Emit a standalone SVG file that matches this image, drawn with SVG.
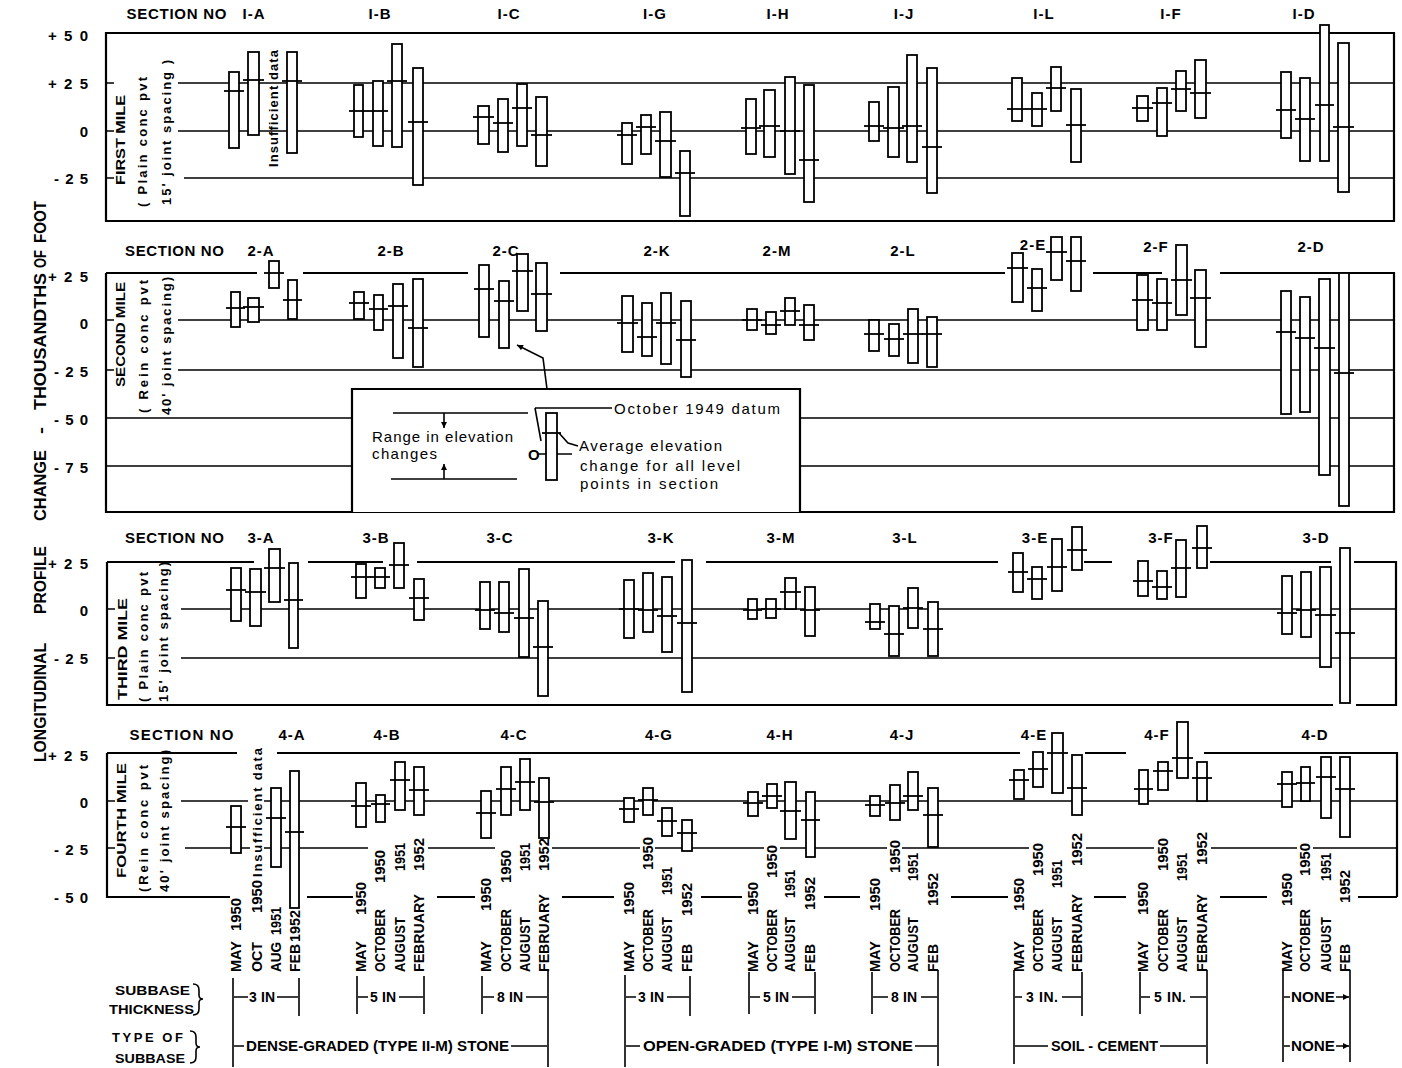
<svg xmlns="http://www.w3.org/2000/svg" width="1402" height="1068" viewBox="0 0 1402 1068">
<style>
text{font-family:"Liberation Sans",Arial,sans-serif;fill:#000}
.s{font-weight:bold;font-size:15px;letter-spacing:1px}
.t{font-weight:bold;font-size:15px}
.v{font-weight:bold;font-size:13px}
.lg{font-size:15px}
.d{font-weight:bold;font-size:14px}
.ax{font-weight:bold;font-size:16px}
.sm{font-weight:bold;font-size:13px}
.th{font-weight:bold;font-size:14px}
.b rect{fill:#fff;stroke:#000;stroke-width:1.8}
.b path{fill:none;stroke:#000;stroke-width:1.8}
.g path{fill:none;stroke:#000;stroke-width:1.6}
.f path{fill:none;stroke:#000;stroke-width:2.2}
.k path{fill:none;stroke:#000;stroke-width:1.6}
</style>
<defs>
<marker id="ah" viewBox="0 0 10 10" refX="10" refY="5" markerWidth="8" markerHeight="6" markerUnits="userSpaceOnUse" orient="auto"><path d="M0,0 L10,5 L0,10 z" fill="#000"/></marker>
</defs>

<!-- Y axis title -->
<g id="axis-title">
<text class="ax" transform="translate(46,762) rotate(-90)" textLength="119" lengthAdjust="spacingAndGlyphs">LONGITUDINAL</text>
<text class="ax" transform="translate(46,614) rotate(-90)" textLength="68" lengthAdjust="spacingAndGlyphs">PROFILE</text>
<text class="ax" transform="translate(46,521) rotate(-90)" textLength="71" lengthAdjust="spacingAndGlyphs">CHANGE</text>
<text class="ax" transform="translate(46,434) rotate(-90)" textLength="7" lengthAdjust="spacingAndGlyphs">-</text>
<text class="ax" transform="translate(46,410) rotate(-90)" textLength="137" lengthAdjust="spacingAndGlyphs">THOUSANDTHS</text>
<text class="ax" transform="translate(46,268) rotate(-90)" textLength="18" lengthAdjust="spacingAndGlyphs">OF</text>
<text class="ax" transform="translate(46,243) rotate(-90)" textLength="42" lengthAdjust="spacingAndGlyphs">FOOT</text>
</g>

<!-- Frames and grid lines -->
<g id="grid" class="g">
<path d="M178,83H1394M178,131H1394M184,178H1394M106,83H114M106,131H114M106,178H114"/>
<path d="M178,320H1394M178,370H1394M106,418H352M800,418H1394M106,466H352M800,466H1394M106,320H114M106,370H114"/>
<path d="M181,609H1396M181,658H1396M107,609H115M107,658H115"/>
<path d="M181,801H248M264,801H1397M185,848H250M264,848H368M428,848H495M552,848H640M655,848H764M780,848H887M902,848H1029M1086,848H1154M1211,848H1297M1313,848H1397M107,801H115M107,848H115"/>
</g>
<g id="frames" class="f">
<path d="M106,33H1394V221H106Z"/>
<path d="M106,273H257M303,273H468M560,273H1005M1093,273H1162M1220,273H1394V512H106V273"/>
<path d="M107,562H254M308,562H383M417,562H675M706,562H998M1084,562H1112M1210,562H1331M1354,562H1396V705H1356M1333,705H107V562"/>
<path d="M107,753H237M277,753H1020M1085,753H1126M1204,753H1397V897M107,753V897H230M307,897H353M437,897H475M562,897H614M701,897H742M824,897H860M951,897H1008M1094,897H1126M1220,897H1267M1358,897H1397"/>
</g>

<!-- Tick labels -->
<g id="ticks">
<text class="t" x="88" y="41" text-anchor="end" textLength="40" lengthAdjust="spacing">+50</text>
<text class="t" x="88" y="89" text-anchor="end" textLength="40" lengthAdjust="spacing">+25</text>
<text class="t" x="88" y="137" text-anchor="end">0</text>
<text class="t" x="88" y="184" text-anchor="end" textLength="34" lengthAdjust="spacing">-25</text>
<text class="t" x="88" y="282" text-anchor="end" textLength="40" lengthAdjust="spacing">+25</text>
<text class="t" x="88" y="329" text-anchor="end">0</text>
<text class="t" x="88" y="377" text-anchor="end" textLength="34" lengthAdjust="spacing">-25</text>
<text class="t" x="88" y="425" text-anchor="end" textLength="34" lengthAdjust="spacing">-50</text>
<text class="t" x="88" y="473" text-anchor="end" textLength="34" lengthAdjust="spacing">-75</text>
<text class="t" x="88" y="569" text-anchor="end" textLength="40" lengthAdjust="spacing">+25</text>
<text class="t" x="88" y="616" text-anchor="end">0</text>
<text class="t" x="88" y="664" text-anchor="end" textLength="34" lengthAdjust="spacing">-25</text>
<text class="t" x="88" y="761" text-anchor="end" textLength="40" lengthAdjust="spacing">+25</text>
<text class="t" x="88" y="808" text-anchor="end">0</text>
<text class="t" x="88" y="855" text-anchor="end" textLength="34" lengthAdjust="spacing">-25</text>
<text class="t" x="88" y="903" text-anchor="end" textLength="34" lengthAdjust="spacing">-50</text>
</g>

<!-- Panel side labels -->
<g id="mile-labels">
<text class="v" transform="translate(125,185) rotate(-90)" textLength="90" lengthAdjust="spacingAndGlyphs">FIRST MILE</text>
<text class="v" transform="translate(147,207) rotate(-90)" textLength="130" lengthAdjust="spacing">( Plain conc pvt</text>
<text class="v" transform="translate(171,205) rotate(-90)" textLength="145" lengthAdjust="spacing">15' joint spacing )</text>
<text class="v" transform="translate(125,387) rotate(-90)" textLength="105" lengthAdjust="spacingAndGlyphs">SECOND MILE</text>
<text class="v" transform="translate(148,413) rotate(-90)" textLength="133" lengthAdjust="spacing">( Rein conc pvt</text>
<text class="v" transform="translate(171,415) rotate(-90)" textLength="138" lengthAdjust="spacing">40' joint spacing)</text>
<text class="v" transform="translate(127,700) rotate(-90)" textLength="102" lengthAdjust="spacingAndGlyphs" font-weight="normal">THIRD MILE</text>
<text class="v" transform="translate(148,702) rotate(-90)" textLength="130" lengthAdjust="spacing">( Plain conc pvt</text>
<text class="v" transform="translate(168,702) rotate(-90)" textLength="140" lengthAdjust="spacing">15' joint spacing)</text>
<text class="v" transform="translate(126,878) rotate(-90)" textLength="115" lengthAdjust="spacingAndGlyphs">FOURTH MILE</text>
<text class="v" transform="translate(148,892) rotate(-90)" textLength="127" lengthAdjust="spacing">(Rein conc pvt</text>
<text class="v" transform="translate(169,892) rotate(-90)" textLength="142" lengthAdjust="spacing">40' joint spacing)</text>
</g>

<!-- Section labels -->
<g id="section-labels" class="s" text-anchor="middle">
<text x="177" y="19" textLength="101" lengthAdjust="spacing">SECTION NO</text>
<text x="254" y="19">I-A</text><text x="380" y="19">I-B</text><text x="509" y="19">I-C</text><text x="655" y="19">I-G</text><text x="778" y="19">I-H</text><text x="904" y="19">I-J</text><text x="1044" y="19">I-L</text><text x="1171" y="19">I-F</text><text x="1304" y="19">I-D</text>
<text x="175" y="256" textLength="100" lengthAdjust="spacing">SECTION NO</text>
<text x="261" y="256">2-A</text><text x="391" y="256">2-B</text><text x="506" y="256">2-C</text><text x="657" y="256">2-K</text><text x="777" y="256">2-M</text><text x="903" y="256">2-L</text><text x="1033" y="250">2-E</text><text x="1156" y="252">2-F</text><text x="1311" y="252">2-D</text>
<text x="175" y="543" textLength="100" lengthAdjust="spacing">SECTION NO</text>
<text x="261" y="543">3-A</text><text x="376" y="543">3-B</text><text x="500" y="543">3-C</text><text x="661" y="543">3-K</text><text x="781" y="543">3-M</text><text x="905" y="543">3-L</text><text x="1035" y="543">3-E</text><text x="1161" y="543">3-F</text><text x="1316" y="543">3-D</text>
<text x="182" y="740" textLength="105" lengthAdjust="spacing">SECTION NO</text>
<text x="292" y="740">4-A</text><text x="387" y="740">4-B</text><text x="514" y="740">4-C</text><text x="659" y="740">4-G</text><text x="780" y="740">4-H</text><text x="902" y="740">4-J</text><text x="1034" y="740">4-E</text><text x="1157" y="740">4-F</text><text x="1315" y="740">4-D</text>
</g>

<!-- Legend -->
<g id="legend">
<path d="M352,512V389H800V512" fill="#fff" stroke="#000" stroke-width="2.2"/>
<g class="k">
<path d="M393,413H528M391,479H517"/>
<path d="M444,413V428" marker-end="url(#ah)"/>
<path d="M444,479V464" marker-end="url(#ah)"/>
<path d="M535,408H612M535,408L541,441"/>
<path d="M537,454H546M557,454H572"/>
<path d="M559,433L568,443L578,446"/>
</g>
<rect x="546" y="413" width="11" height="67" fill="#fff" stroke="#000" stroke-width="1.8"/>
<path d="M542,433H561" stroke="#000" stroke-width="1.8"/>
<text class="lg" x="372" y="442" textLength="141" lengthAdjust="spacing">Range in elevation</text>
<text class="lg" x="372" y="459" textLength="65" lengthAdjust="spacing">changes</text>
<text class="lg" x="528" y="460" font-weight="bold">O</text>
<text class="lg" x="614" y="414" textLength="166" lengthAdjust="spacing">October 1949 datum</text>
<text class="lg" x="579" y="451" textLength="143" lengthAdjust="spacing">Average elevation</text>
<text class="lg" x="580" y="471" textLength="160" lengthAdjust="spacing">change for all level</text>
<text class="lg" x="580" y="489" textLength="138" lengthAdjust="spacing">points in section</text>
</g>
<g id="legend-leader" class="k">
<path d="M547,389L543,358L517,345" marker-end="url(#ah)"/>
</g>

<!-- Bars: panel 1 -->
<g id="sec-1A" class="b">
<rect x="229" y="72" width="10" height="76"/><path d="M224,91H244"/>
<rect x="248" y="52" width="11" height="83"/><path d="M243,80H264"/>
<rect x="287" y="52" width="10" height="101"/><path d="M282,81H302"/>
</g>
<text class="sm" transform="translate(278,167) rotate(-90)" textLength="117" lengthAdjust="spacing">Insufficient data</text>
<g id="sec-1B" class="b">
<rect x="354" y="85" width="9" height="52"/><path d="M349,111H368"/>
<rect x="373" y="81" width="10" height="65"/><path d="M368,111H388"/>
<rect x="392" y="44" width="10" height="103"/><path d="M387,81H407"/>
<rect x="413" y="68" width="10" height="117"/><path d="M408,122H428"/>
</g>
<g id="sec-1C" class="b">
<rect x="478" y="106" width="11" height="38"/><path d="M473,117H494"/>
<rect x="498" y="99" width="10" height="53"/><path d="M493,123H513"/>
<rect x="517" y="84" width="10" height="62"/><path d="M512,108H532"/>
<rect x="536" y="97" width="11" height="69"/><path d="M531,135H552"/>
</g>
<g id="sec-1G" class="b">
<rect x="622" y="123" width="10" height="41"/><path d="M617,135H637"/>
<rect x="641" y="115" width="10" height="39"/><path d="M636,127H656"/>
<rect x="660" y="112" width="11" height="65"/><path d="M655,141H676"/>
<rect x="680" y="151" width="10" height="65"/><path d="M675,173H695"/>
</g>
<g id="sec-1H" class="b">
<rect x="746" y="99" width="10" height="55"/><path d="M741,128H761"/>
<rect x="764" y="90" width="11" height="67"/><path d="M759,126H780"/>
<rect x="785" y="77" width="10" height="97"/><path d="M780,131H800"/>
<rect x="804" y="85" width="10" height="117"/><path d="M799,160H819"/>
</g>
<g id="sec-1J" class="b">
<rect x="869" y="102" width="10" height="39"/><path d="M864,126H884"/>
<rect x="888" y="87" width="11" height="70"/><path d="M883,128H904"/>
<rect x="907" y="55" width="10" height="107"/><path d="M902,126H922"/>
<rect x="927" y="68" width="10" height="125"/><path d="M922,147H942"/>
</g>
<g id="sec-1L" class="b">
<rect x="1012" y="78" width="10" height="43"/><path d="M1007,109H1027"/>
<rect x="1032" y="93" width="10" height="33"/><path d="M1027,109H1047"/>
<rect x="1051" y="67" width="10" height="44"/><path d="M1046,88H1066"/>
<rect x="1071" y="89" width="10" height="73"/><path d="M1066,125H1086"/>
</g>
<g id="sec-1F" class="b">
<rect x="1137" y="96" width="11" height="25"/><path d="M1132,108H1153"/>
<rect x="1157" y="88" width="10" height="48"/><path d="M1152,103H1172"/>
<rect x="1176" y="71" width="10" height="40"/><path d="M1171,89H1191"/>
<rect x="1195" y="60" width="11" height="58"/><path d="M1190,93H1211"/>
</g>
<g id="sec-1D" class="b">
<rect x="1281" y="72" width="10" height="66"/><path d="M1276,110H1296"/>
<rect x="1300" y="78" width="10" height="83"/><path d="M1295,119H1315"/>
<rect x="1320" y="25" width="9" height="136"/><path d="M1315,105H1334"/>
<rect x="1338" y="43" width="11" height="149"/><path d="M1333,127H1354"/>
</g>

<!-- Bars: panel 2 -->
<g id="sec-2A" class="b">
<rect x="231" y="292" width="9" height="35"/><path d="M226,308H245"/>
<rect x="248" y="298" width="11" height="24"/><path d="M243,307H264"/>
<rect x="269" y="261" width="10" height="27"/><path d="M264,273H284"/>
<rect x="288" y="280" width="9" height="39"/><path d="M283,300H302"/>
</g>
<g id="sec-2B" class="b">
<rect x="354" y="292" width="10" height="27"/><path d="M349,303H369"/>
<rect x="374" y="295" width="9" height="35"/><path d="M369,309H388"/>
<rect x="393" y="284" width="10" height="74"/><path d="M388,306H408"/>
<rect x="413" y="279" width="10" height="88"/><path d="M408,328H428"/>
</g>
<g id="sec-2C" class="b">
<rect x="479" y="265" width="10" height="72"/><path d="M474,289H494"/>
<rect x="499" y="281" width="10" height="67"/><path d="M494,301H514"/>
<rect x="517" y="254" width="11" height="57"/><path d="M512,271H533"/>
<rect x="536" y="263" width="11" height="68"/><path d="M531,294H552"/>
</g>
<g id="sec-2K" class="b">
<rect x="622" y="296" width="11" height="56"/><path d="M617,323H638"/>
<rect x="642" y="303" width="10" height="53"/><path d="M637,337H657"/>
<rect x="661" y="293" width="10" height="71"/><path d="M656,323H676"/>
<rect x="681" y="301" width="10" height="76"/><path d="M676,340H696"/>
</g>
<g id="sec-2M" class="b">
<rect x="747" y="309" width="10" height="21"/><path d="M742,320H762"/>
<rect x="766" y="312" width="10" height="22"/><path d="M761,325H781"/>
<rect x="785" y="298" width="10" height="27"/><path d="M780,311H800"/>
<rect x="804" y="305" width="10" height="35"/><path d="M799,325H819"/>
</g>
<g id="sec-2L" class="b">
<rect x="869" y="320" width="10" height="31"/><path d="M864,334H884"/>
<rect x="889" y="324" width="10" height="32"/><path d="M884,339H904"/>
<rect x="908" y="309" width="10" height="54"/><path d="M903,334H923"/>
<rect x="927" y="317" width="10" height="50"/><path d="M922,334H942"/>
</g>
<g id="sec-2E" class="b">
<rect x="1012" y="253" width="11" height="49"/><path d="M1007,268H1028"/>
<rect x="1032" y="269" width="10" height="42"/><path d="M1027,288H1047"/>
<rect x="1051" y="237" width="11" height="43"/><path d="M1046,252H1067"/>
<rect x="1071" y="237" width="10" height="54"/><path d="M1066,261H1086"/>
</g>
<g id="sec-2F" class="b">
<rect x="1137" y="275" width="11" height="55"/><path d="M1132,300H1153"/>
<rect x="1157" y="279" width="10" height="51"/><path d="M1152,303H1172"/>
<rect x="1176" y="245" width="11" height="70"/><path d="M1171,280H1192"/>
<rect x="1195" y="270" width="11" height="77"/><path d="M1190,298H1211"/>
</g>
<g id="sec-2D" class="b">
<rect x="1281" y="291" width="10" height="123"/><path d="M1276,332H1296"/>
<rect x="1300" y="297" width="10" height="115"/><path d="M1295,338H1315"/>
<rect x="1319" y="279" width="11" height="196"/><path d="M1314,348H1335"/>
<rect x="1339" y="273" width="10" height="233"/><path d="M1334,373H1354"/>
</g>

<!-- Bars: panel 3 -->
<g id="sec-3A" class="b">
<rect x="231" y="568" width="10" height="53"/><path d="M226,590H246"/>
<rect x="250" y="569" width="11" height="57"/><path d="M245,592H266"/>
<rect x="269" y="549" width="11" height="53"/><path d="M264,568H285"/>
<rect x="289" y="563" width="9" height="85"/><path d="M284,600H303"/>
</g>
<g id="sec-3B" class="b">
<rect x="356" y="564" width="10" height="34"/><path d="M351,577H371"/>
<rect x="375" y="568" width="10" height="20"/><path d="M370,577H390"/>
<rect x="394" y="543" width="10" height="45"/><path d="M389,565H409"/>
<rect x="414" y="579" width="10" height="41"/><path d="M409,598H429"/>
</g>
<g id="sec-3C" class="b">
<rect x="480" y="582" width="10" height="47"/><path d="M475,610H495"/>
<rect x="499" y="582" width="10" height="50"/><path d="M494,613H514"/>
<rect x="519" y="569" width="10" height="88"/><path d="M514,618H534"/>
<rect x="538" y="601" width="10" height="95"/><path d="M533,647H553"/>
</g>
<g id="sec-3K" class="b">
<rect x="624" y="580" width="10" height="58"/><path d="M619,609H639"/>
<rect x="643" y="573" width="10" height="59"/><path d="M638,610H658"/>
<rect x="662" y="577" width="10" height="75"/><path d="M657,616H677"/>
<rect x="682" y="560" width="10" height="132"/><path d="M677,623H697"/>
</g>
<g id="sec-3M" class="b">
<rect x="748" y="599" width="9" height="20"/><path d="M743,610H762"/>
<rect x="766" y="599" width="10" height="19"/><path d="M761,609H781"/>
<rect x="785" y="578" width="11" height="31"/><path d="M780,592H801"/>
<rect x="805" y="587" width="10" height="49"/><path d="M800,610H820"/>
</g>
<g id="sec-3L" class="b">
<rect x="870" y="604" width="10" height="25"/><path d="M865,622H885"/>
<rect x="889" y="606" width="10" height="50"/><path d="M884,634H904"/>
<rect x="908" y="588" width="10" height="40"/><path d="M903,608H923"/>
<rect x="928" y="602" width="10" height="54"/><path d="M923,629H943"/>
</g>
<g id="sec-3E" class="b">
<rect x="1013" y="553" width="10" height="39"/><path d="M1008,572H1028"/>
<rect x="1032" y="567" width="10" height="32"/><path d="M1027,579H1047"/>
<rect x="1052" y="539" width="10" height="52"/><path d="M1047,567H1067"/>
<rect x="1072" y="527" width="10" height="43"/><path d="M1067,550H1087"/>
</g>
<g id="sec-3F" class="b">
<rect x="1138" y="561" width="10" height="35"/><path d="M1133,581H1153"/>
<rect x="1157" y="571" width="10" height="28"/><path d="M1152,587H1172"/>
<rect x="1176" y="540" width="10" height="57"/><path d="M1171,568H1191"/>
<rect x="1197" y="526" width="10" height="42"/><path d="M1192,548H1212"/>
</g>
<g id="sec-3D" class="b">
<rect x="1282" y="576" width="10" height="58"/><path d="M1277,613H1297"/>
<rect x="1301" y="572" width="10" height="65"/><path d="M1296,610H1316"/>
<rect x="1320" y="567" width="11" height="100"/><path d="M1315,615H1336"/>
<rect x="1340" y="548" width="10" height="155"/><path d="M1335,633H1355"/>
</g>

<!-- Bars: panel 4 -->
<g id="sec-4A" class="b">
<rect x="231" y="806" width="10" height="47"/><path d="M226,827H246"/>
<rect x="271" y="788" width="10" height="79"/><path d="M266,818H286"/>
<rect x="290" y="771" width="9" height="137"/><path d="M285,832H304"/>
</g>
<g id="sec-4B" class="b">
<rect x="356" y="783" width="10" height="44"/><path d="M351,806H371"/>
<rect x="376" y="795" width="9" height="27"/><path d="M371,804H390"/>
<rect x="395" y="762" width="10" height="48"/><path d="M390,780H410"/>
<rect x="414" y="767" width="10" height="48"/><path d="M409,790H429"/>
</g>
<g id="sec-4C" class="b">
<rect x="481" y="791" width="10" height="47"/><path d="M476,813H496"/>
<rect x="501" y="767" width="10" height="48"/><path d="M496,789H516"/>
<rect x="520" y="759" width="10" height="51"/><path d="M515,782H535"/>
<rect x="539" y="778" width="10" height="60"/><path d="M534,802H554"/>
</g>
<g id="sec-4G" class="b">
<rect x="624" y="798" width="10" height="24"/><path d="M619,809H639"/>
<rect x="643" y="788" width="10" height="27"/><path d="M638,800H658"/>
<rect x="662" y="808" width="10" height="28"/><path d="M657,821H677"/>
<rect x="682" y="820" width="10" height="31"/><path d="M677,833H697"/>
</g>
<g id="sec-4H" class="b">
<rect x="748" y="792" width="10" height="24"/><path d="M743,803H763"/>
<rect x="767" y="784" width="10" height="24"/><path d="M762,796H782"/>
<rect x="785" y="782" width="11" height="57"/><path d="M780,811H801"/>
<rect x="806" y="792" width="9" height="65"/><path d="M801,820H820"/>
</g>
<g id="sec-4J" class="b">
<rect x="870" y="796" width="10" height="20"/><path d="M865,805H885"/>
<rect x="890" y="785" width="10" height="35"/><path d="M885,803H905"/>
<rect x="908" y="772" width="10" height="38"/><path d="M903,796H923"/>
<rect x="928" y="788" width="10" height="59"/><path d="M923,815H943"/>
</g>
<g id="sec-4E" class="b">
<rect x="1014" y="770" width="10" height="29"/><path d="M1009,780H1029"/>
<rect x="1033" y="752" width="10" height="35"/><path d="M1028,769H1048"/>
<rect x="1052" y="733" width="11" height="60"/><path d="M1047,753H1068"/>
<rect x="1072" y="755" width="10" height="60"/><path d="M1067,788H1087"/>
</g>
<g id="sec-4F" class="b">
<rect x="1139" y="770" width="9" height="34"/><path d="M1134,789H1153"/>
<rect x="1158" y="762" width="10" height="28"/><path d="M1153,771H1173"/>
<rect x="1177" y="722" width="11" height="56"/><path d="M1172,758H1193"/>
<rect x="1197" y="762" width="10" height="39"/><path d="M1192,778H1212"/>
</g>
<g id="sec-4D" class="b">
<rect x="1282" y="772" width="10" height="35"/><path d="M1277,784H1297"/>
<rect x="1301" y="767" width="9" height="34"/><path d="M1296,783H1315"/>
<rect x="1321" y="757" width="10" height="61"/><path d="M1316,777H1336"/>
<rect x="1340" y="757" width="10" height="80"/><path d="M1335,789H1355"/>
</g>
<text class="sm" transform="translate(262,877) rotate(-90)" textLength="129" lengthAdjust="spacing">Insufficient data</text>

<!-- Date labels -->
<g id="dates" class="d">
<g transform="translate(241,972) rotate(-90)"><text textLength="31" lengthAdjust="spacingAndGlyphs">MAY</text><text x="74" text-anchor="end" textLength="33" lengthAdjust="spacingAndGlyphs">1950</text></g>
<g transform="translate(262,972) rotate(-90)"><text textLength="30" lengthAdjust="spacingAndGlyphs">OCT</text><text x="92" text-anchor="end" textLength="33" lengthAdjust="spacingAndGlyphs">1950</text></g>
<g transform="translate(281,972) rotate(-90)"><text textLength="30" lengthAdjust="spacingAndGlyphs">AUG</text><text x="65" text-anchor="end" textLength="28" lengthAdjust="spacingAndGlyphs">1951</text></g>
<g transform="translate(300,972) rotate(-90)"><text textLength="28" lengthAdjust="spacingAndGlyphs">FEB</text><text x="62" text-anchor="end" textLength="32" lengthAdjust="spacingAndGlyphs">1952</text></g>

<g transform="translate(366,972) rotate(-90)"><text textLength="31" lengthAdjust="spacingAndGlyphs">MAY</text><text x="90" text-anchor="end" textLength="33" lengthAdjust="spacingAndGlyphs">1950</text></g>
<g transform="translate(385,972) rotate(-90)"><text textLength="63" lengthAdjust="spacingAndGlyphs">OCTOBER</text><text x="122" text-anchor="end" textLength="33" lengthAdjust="spacingAndGlyphs">1950</text></g>
<g transform="translate(405,972) rotate(-90)"><text textLength="55" lengthAdjust="spacingAndGlyphs">AUGUST</text><text x="129" text-anchor="end" textLength="28" lengthAdjust="spacingAndGlyphs">1951</text></g>
<g transform="translate(424,972) rotate(-90)"><text textLength="78" lengthAdjust="spacingAndGlyphs">FEBRUARY</text><text x="134" text-anchor="end" textLength="33" lengthAdjust="spacingAndGlyphs">1952</text></g>

<g transform="translate(491,972) rotate(-90)"><text textLength="31" lengthAdjust="spacingAndGlyphs">MAY</text><text x="94" text-anchor="end" textLength="33" lengthAdjust="spacingAndGlyphs">1950</text></g>
<g transform="translate(511,972) rotate(-90)"><text textLength="63" lengthAdjust="spacingAndGlyphs">OCTOBER</text><text x="122" text-anchor="end" textLength="33" lengthAdjust="spacingAndGlyphs">1950</text></g>
<g transform="translate(530,972) rotate(-90)"><text textLength="55" lengthAdjust="spacingAndGlyphs">AUGUST</text><text x="129" text-anchor="end" textLength="28" lengthAdjust="spacingAndGlyphs">1951</text></g>
<g transform="translate(549,972) rotate(-90)"><text textLength="78" lengthAdjust="spacingAndGlyphs">FEBRUARY</text><text x="134" text-anchor="end" textLength="33" lengthAdjust="spacingAndGlyphs">1952</text></g>

<g transform="translate(634,972) rotate(-90)"><text textLength="31" lengthAdjust="spacingAndGlyphs">MAY</text><text x="90" text-anchor="end" textLength="33" lengthAdjust="spacingAndGlyphs">1950</text></g>
<g transform="translate(653,972) rotate(-90)"><text textLength="63" lengthAdjust="spacingAndGlyphs">OCTOBER</text><text x="135" text-anchor="end" textLength="33" lengthAdjust="spacingAndGlyphs">1950</text></g>
<g transform="translate(672,972) rotate(-90)"><text textLength="55" lengthAdjust="spacingAndGlyphs">AUGUST</text><text x="105" text-anchor="end" textLength="28" lengthAdjust="spacingAndGlyphs">1951</text></g>
<g transform="translate(692,972) rotate(-90)"><text textLength="28" lengthAdjust="spacingAndGlyphs">FEB</text><text x="89" text-anchor="end" textLength="33" lengthAdjust="spacingAndGlyphs">1952</text></g>

<g transform="translate(758,972) rotate(-90)"><text textLength="31" lengthAdjust="spacingAndGlyphs">MAY</text><text x="90" text-anchor="end" textLength="33" lengthAdjust="spacingAndGlyphs">1950</text></g>
<g transform="translate(777,972) rotate(-90)"><text textLength="63" lengthAdjust="spacingAndGlyphs">OCTOBER</text><text x="127" text-anchor="end" textLength="33" lengthAdjust="spacingAndGlyphs">1950</text></g>
<g transform="translate(795,972) rotate(-90)"><text textLength="55" lengthAdjust="spacingAndGlyphs">AUGUST</text><text x="102" text-anchor="end" textLength="28" lengthAdjust="spacingAndGlyphs">1951</text></g>
<g transform="translate(815,972) rotate(-90)"><text textLength="28" lengthAdjust="spacingAndGlyphs">FEB</text><text x="95" text-anchor="end" textLength="33" lengthAdjust="spacingAndGlyphs">1952</text></g>

<g transform="translate(880,972) rotate(-90)"><text textLength="31" lengthAdjust="spacingAndGlyphs">MAY</text><text x="94" text-anchor="end" textLength="33" lengthAdjust="spacingAndGlyphs">1950</text></g>
<g transform="translate(900,972) rotate(-90)"><text textLength="63" lengthAdjust="spacingAndGlyphs">OCTOBER</text><text x="132" text-anchor="end" textLength="33" lengthAdjust="spacingAndGlyphs">1950</text></g>
<g transform="translate(918,972) rotate(-90)"><text textLength="55" lengthAdjust="spacingAndGlyphs">AUGUST</text><text x="119" text-anchor="end" textLength="28" lengthAdjust="spacingAndGlyphs">1951</text></g>
<g transform="translate(938,972) rotate(-90)"><text textLength="28" lengthAdjust="spacingAndGlyphs">FEB</text><text x="99" text-anchor="end" textLength="33" lengthAdjust="spacingAndGlyphs">1952</text></g>

<g transform="translate(1024,972) rotate(-90)"><text textLength="31" lengthAdjust="spacingAndGlyphs">MAY</text><text x="94" text-anchor="end" textLength="33" lengthAdjust="spacingAndGlyphs">1950</text></g>
<g transform="translate(1043,972) rotate(-90)"><text textLength="63" lengthAdjust="spacingAndGlyphs">OCTOBER</text><text x="129" text-anchor="end" textLength="33" lengthAdjust="spacingAndGlyphs">1950</text></g>
<g transform="translate(1062,972) rotate(-90)"><text textLength="55" lengthAdjust="spacingAndGlyphs">AUGUST</text><text x="112" text-anchor="end" textLength="28" lengthAdjust="spacingAndGlyphs">1951</text></g>
<g transform="translate(1082,972) rotate(-90)"><text textLength="78" lengthAdjust="spacingAndGlyphs">FEBRUARY</text><text x="139" text-anchor="end" textLength="33" lengthAdjust="spacingAndGlyphs">1952</text></g>

<g transform="translate(1148,972) rotate(-90)"><text textLength="31" lengthAdjust="spacingAndGlyphs">MAY</text><text x="90" text-anchor="end" textLength="33" lengthAdjust="spacingAndGlyphs">1950</text></g>
<g transform="translate(1168,972) rotate(-90)"><text textLength="63" lengthAdjust="spacingAndGlyphs">OCTOBER</text><text x="134" text-anchor="end" textLength="33" lengthAdjust="spacingAndGlyphs">1950</text></g>
<g transform="translate(1187,972) rotate(-90)"><text textLength="55" lengthAdjust="spacingAndGlyphs">AUGUST</text><text x="119" text-anchor="end" textLength="28" lengthAdjust="spacingAndGlyphs">1951</text></g>
<g transform="translate(1207,972) rotate(-90)"><text textLength="78" lengthAdjust="spacingAndGlyphs">FEBRUARY</text><text x="140" text-anchor="end" textLength="33" lengthAdjust="spacingAndGlyphs">1952</text></g>

<g transform="translate(1292,972) rotate(-90)"><text textLength="31" lengthAdjust="spacingAndGlyphs">MAY</text><text x="99" text-anchor="end" textLength="33" lengthAdjust="spacingAndGlyphs">1950</text></g>
<g transform="translate(1310,972) rotate(-90)"><text textLength="63" lengthAdjust="spacingAndGlyphs">OCTOBER</text><text x="129" text-anchor="end" textLength="33" lengthAdjust="spacingAndGlyphs">1950</text></g>
<g transform="translate(1331,972) rotate(-90)"><text textLength="55" lengthAdjust="spacingAndGlyphs">AUGUST</text><text x="119" text-anchor="end" textLength="28" lengthAdjust="spacingAndGlyphs">1951</text></g>
<g transform="translate(1350,972) rotate(-90)"><text textLength="28" lengthAdjust="spacingAndGlyphs">FEB</text><text x="102" text-anchor="end" textLength="33" lengthAdjust="spacingAndGlyphs">1952</text></g>
</g>

<!-- Subbase annotations -->
<g id="subbase" class="k">
<path d="M233,978V1067M548,970V1067M625,975V1067M938,970V1066M1014,970V1064M1207,970V1064M1283,970V1062M1350,970V1062"/>
<path d="M299,978V1016M357,976V1014M424,976V1014M482,976V1014M690,976V1016M749,972V1014M815,972V1014M872,972V1014M1082,972V1016M1140,972V1014"/>
<path d="M248,997H234M277,997H298M368,997H358M399,997H423M494,997H483M526,997H547M636,997H626M667,997H689M760,997H750M792,997H814M888,997H873M921,997H937M1022,997H1015M1062,997H1081M1150,997H1141M1190,997H1206M1290,997H1284M1336,997H1349" marker-end="url(#ah)"/>
<path d="M244,1046H234M511,1046H547M640,1046H626M915,1046H937M1048,1046H1015M1160,1046H1206M1290,1046H1284M1336,1046H1349" marker-end="url(#ah)"/>
</g>
<g id="subbase-text" class="th">
<text x="262" y="1002" text-anchor="middle" textLength="26" lengthAdjust="spacing">3 IN</text>
<text x="383" y="1002" text-anchor="middle" textLength="26" lengthAdjust="spacing">5 IN</text>
<text x="510" y="1002" text-anchor="middle" textLength="26" lengthAdjust="spacing">8 IN</text>
<text x="651" y="1002" text-anchor="middle" textLength="26" lengthAdjust="spacing">3 IN</text>
<text x="776" y="1002" text-anchor="middle" textLength="26" lengthAdjust="spacing">5 IN</text>
<text x="904" y="1002" text-anchor="middle" textLength="26" lengthAdjust="spacing">8 IN</text>
<text x="1042" y="1002" text-anchor="middle" textLength="32" lengthAdjust="spacing">3 IN.</text>
<text x="1170" y="1002" text-anchor="middle" textLength="32" lengthAdjust="spacing">5 IN.</text>
<text x="1313" y="1002" text-anchor="middle" textLength="44" lengthAdjust="spacingAndGlyphs">NONE</text>
<text x="246" y="1051" textLength="263" lengthAdjust="spacingAndGlyphs">DENSE-GRADED (TYPE II-M) STONE</text>
<text x="643" y="1051" textLength="270" lengthAdjust="spacingAndGlyphs">OPEN-GRADED (TYPE I-M) STONE</text>
<text x="1051" y="1051" textLength="107" lengthAdjust="spacingAndGlyphs">SOIL - CEMENT</text>
<text x="1313" y="1051" text-anchor="middle" textLength="44" lengthAdjust="spacingAndGlyphs">NONE</text>
</g>
<g id="subbase-heads" class="sm">
<text x="115" y="995" textLength="75" lengthAdjust="spacingAndGlyphs">SUBBASE</text>
<text x="109" y="1014" textLength="85" lengthAdjust="spacingAndGlyphs">THICKNESS</text>
<text x="112" y="1042" textLength="71" lengthAdjust="spacing">TYPE  OF</text>
<text x="115" y="1063" textLength="70" lengthAdjust="spacingAndGlyphs">SUBBASE</text>
</g>
<g id="braces" fill="none" stroke="#000" stroke-width="1.6">
<path d="M193,984Q199,984 199,990V995Q199,999 203,999Q199,999 199,1003V1009Q199,1015 193,1015"/>
<path d="M190,1031Q196,1031 196,1037V1043Q196,1047 200,1047Q196,1047 196,1051V1057Q196,1063 190,1063"/>
</g>
</svg>
